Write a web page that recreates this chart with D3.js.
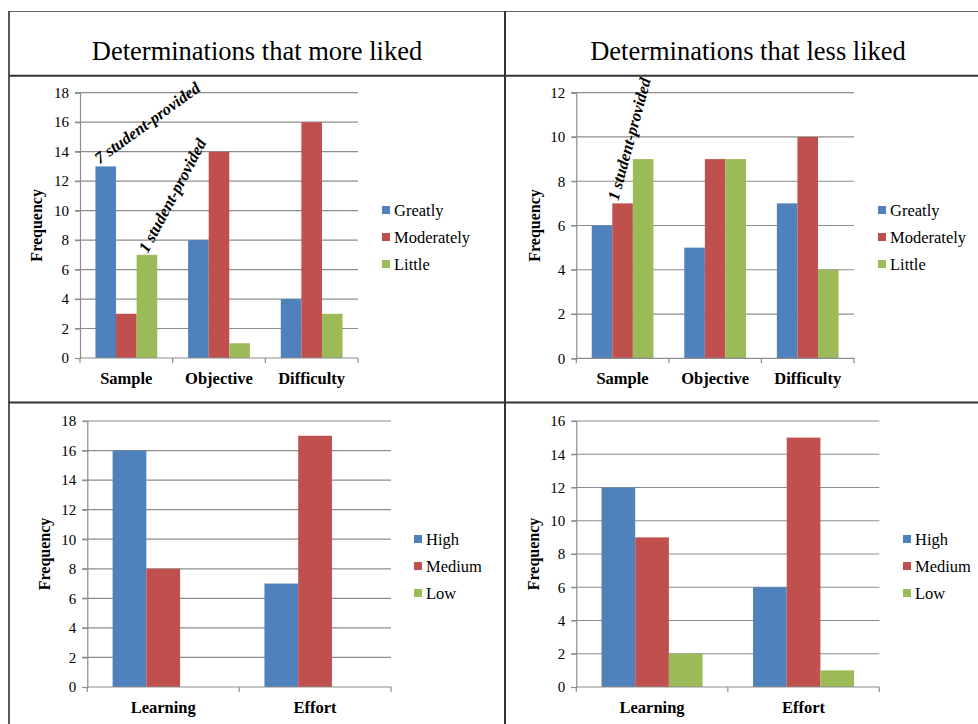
<!DOCTYPE html>
<html>
<head>
<meta charset="utf-8">
<script src="https://cdn.jsdelivr.net/npm/d3@7"></script>
<style>
  html, body { margin: 0; padding: 0; background: #fff; }
  svg { display: block; }
  svg text { font-family: "Liberation Serif", "Times New Roman", serif; }
</style>
</head>
<body>
<svg id="chart" width="978" height="724"></svg>
<script>
// ---- Data ----
const titles = ["Determinations that more liked", "Determinations that less liked"];
const categoriesTop = ["Sample", "Objective", "Difficulty"];
const seriesTop = ["Greatly", "Moderately", "Little"];
const moreLikedGreatly = [13, 8, 4];
const moreLikedModerately = [3, 14, 16];
const moreLikedLittle = [7, 1, 3];
const lessLikedGreatly = [6, 5, 7];
const lessLikedModerately = [7, 9, 10];
const lessLikedLittle = [9, 9, 4];

const categoriesBottom = ["Learning", "Effort"];
const seriesBottom = ["High", "Medium", "Low"];
const moreHigh = [16, 7];
const moreMedium = [8, 17];
const moreLow = [0, 0];
const lessHigh = [12, 6];
const lessMedium = [9, 15];
const lessLow = [2, 1];

const ticks18 = [0, 2, 4, 6, 8, 10, 12, 14, 16, 18];
const ticks12 = [0, 2, 4, 6, 8, 10, 12];
const ticks16 = [0, 2, 4, 6, 8, 10, 12, 14, 16];

const annotationText = "student-provided";

const colors = ["#4F81BD", "#C0504D", "#9BBB59"];

// ---- Layout ----
const FONT = "'Liberation Serif', 'Times New Roman', serif";
const svg = d3.select("#chart");
svg.append("rect").attr("width", 978).attr("height", 724).attr("fill", "#fff");

const panels = [
  { cats: categoriesTop, series: seriesTop, values: [moreLikedGreatly, moreLikedModerately, moreLikedLittle],
    ticks: ticks18, x0: 80, x1: 358, yTop: 92.7, yBot: 358, freqX: 42, legX: 382, legY: 210, catY: 384,
    notes: [ { count: 7, cat: 0, ser: 0, angle: -36, dx: 4, dy: -2 }, { count: 1, cat: 0, ser: 2, angle: -62, dx: 11, dy: -1 } ] },
  { cats: categoriesTop, series: seriesTop, values: [lessLikedGreatly, lessLikedModerately, lessLikedLittle],
    ticks: ticks12, x0: 576.3, x1: 854, yTop: 92.7, yBot: 358.3, freqX: 539.5, legX: 878, legY: 210, catY: 384,
    notes: [ { count: 1, cat: 0, ser: 1, angle: -75, dx: 6, dy: -2 } ] },
  { cats: categoriesBottom, series: seriesBottom, values: [moreHigh, moreMedium, moreLow],
    ticks: ticks18, x0: 87.3, x1: 391, yTop: 421, yBot: 687, freqX: 49.5, legX: 414, legY: 539, catY: 713, notes: [] },
  { cats: categoriesBottom, series: seriesBottom, values: [lessHigh, lessMedium, lessLow],
    ticks: ticks16, x0: 576.3, x1: 879.3, yTop: 421, yBot: 687, freqX: 538.5, legX: 903, legY: 539, catY: 713, notes: [] }
];

panels.forEach(p => {
  const g = svg.append("g");
  const x = d3.scaleBand().domain(p.cats).range([p.x0, p.x1]).paddingInner(0).paddingOuter(0);
  const xs = d3.scaleBand().domain(p.series).range([0, x.bandwidth()]).paddingInner(0).paddingOuter(0.75);
  const y = d3.scaleLinear().domain([0, d3.max(p.ticks)]).range([p.yBot, p.yTop]);

  // gridlines
  g.append("g").selectAll("line").data(p.ticks.filter(t => t > 0)).join("line")
    .attr("x1", p.x0 - 5).attr("x2", p.x1)
    .attr("y1", d => y(d)).attr("y2", d => y(d))
    .attr("stroke", "#8c8c8c").attr("stroke-width", 1.2);

  // y axis
  const yAxis = d3.axisLeft(y).tickValues(p.ticks).tickSize(5).tickPadding(6).tickFormat(d3.format("d"));
  const ya = g.append("g").attr("transform", `translate(${p.x0},0)`).call(yAxis);
  ya.attr("font-family", FONT).attr("font-size", 15);
  ya.select(".domain").attr("stroke", "#8c8c8c").attr("stroke-width", 1.2);
  ya.selectAll(".tick line").attr("stroke", "#8c8c8c").attr("stroke-width", 1.2);
  ya.selectAll(".tick text").attr("font-family", FONT).attr("font-size", 15).attr("fill", "#000");

  // bars
  p.series.forEach((s, si) => {
    g.append("g").selectAll("rect").data(p.values[si]).join("rect")
      .attr("x", (d, i) => x(p.cats[i]) + xs(s))
      .attr("width", xs.bandwidth())
      .attr("y", d => y(d))
      .attr("height", d => y(0) - y(d))
      .attr("fill", colors[si]);
  });

  // x axis
  const xAxis = d3.axisBottom(x).tickSize(0).tickFormat("");
  const xa = g.append("g").attr("transform", `translate(0,${p.yBot})`).call(xAxis);
  xa.select(".domain").attr("stroke", "#8c8c8c").attr("stroke-width", 1.2).attr("d", `M${p.x0},0H${p.x1}`);
  xa.selectAll(".tick").remove();
  const bounds = p.cats.map(c => x(c)).concat([p.x1]);
  g.append("g").selectAll("line").data(bounds).join("line")
    .attr("x1", d => d).attr("x2", d => d)
    .attr("y1", p.yBot).attr("y2", p.yBot + 5)
    .attr("stroke", "#8c8c8c").attr("stroke-width", 1.2);

  g.append("g").selectAll("text").data(p.cats).join("text")
    .attr("x", d => x(d) + x.bandwidth() / 2)
    .attr("y", p.catY)
    .attr("text-anchor", "middle")
    .attr("font-weight", "bold")
    .attr("font-size", 16.5)
    .text(d => d);

  // y title
  g.append("text")
    .attr("transform", `translate(${p.freqX},${(p.yTop + p.yBot) / 2}) rotate(-90)`)
    .attr("text-anchor", "middle")
    .attr("font-weight", "bold")
    .attr("font-size", 16)
    .text("Frequency");

  // legend
  const leg = g.append("g");
  p.series.forEach((s, si) => {
    const cy = p.legY + si * 27;
    leg.append("rect").attr("x", p.legX).attr("y", cy - 4).attr("width", 8).attr("height", 8).attr("fill", colors[si]);
    leg.append("text").attr("x", p.legX + 12).attr("y", cy + 5.5).attr("font-size", 16.5).text(s);
  });

  // annotations
  p.notes.forEach(n => {
    const s = p.series[n.ser];
    const bx = x(p.cats[n.cat]) + xs(s) + n.dx;
    const by = y(p.values[n.ser][n.cat]) + n.dy;
    g.append("text")
      .attr("transform", `translate(${bx},${by}) rotate(${n.angle})`)
      .attr("font-weight", "bold").attr("font-style", "italic")
      .attr("font-size", 16.5)
      .text(`${n.count} ${annotationText}`);
  });
});

// titles
svg.append("text").attr("x", 257).attr("y", 60).attr("text-anchor", "middle").attr("font-size", 26.5).text(titles[0]);
svg.append("text").attr("x", 748).attr("y", 60).attr("text-anchor", "middle").attr("font-size", 26.5).text(titles[1]);

svg.selectAll("text").attr("font-family", FONT);

// table borders
const border = svg.append("g");
border.append("line").attr("x1", 9).attr("x2", 978).attr("y1", 11.5).attr("y2", 11.5).attr("stroke", "#666").attr("stroke-width", 1.2);
border.append("line").attr("x1", 9).attr("x2", 9).attr("y1", 11).attr("y2", 724).attr("stroke", "#222").attr("stroke-width", 1.5);
border.append("line").attr("x1", 9).attr("x2", 978).attr("y1", 75.7).attr("y2", 75.7).attr("stroke", "#333").attr("stroke-width", 2);
border.append("line").attr("x1", 9).attr("x2", 978).attr("y1", 402.5).attr("y2", 402.5).attr("stroke", "#333").attr("stroke-width", 2);
border.append("line").attr("x1", 505).attr("x2", 505).attr("y1", 11).attr("y2", 724).attr("stroke", "#333").attr("stroke-width", 2);
</script>
</body>
</html>
